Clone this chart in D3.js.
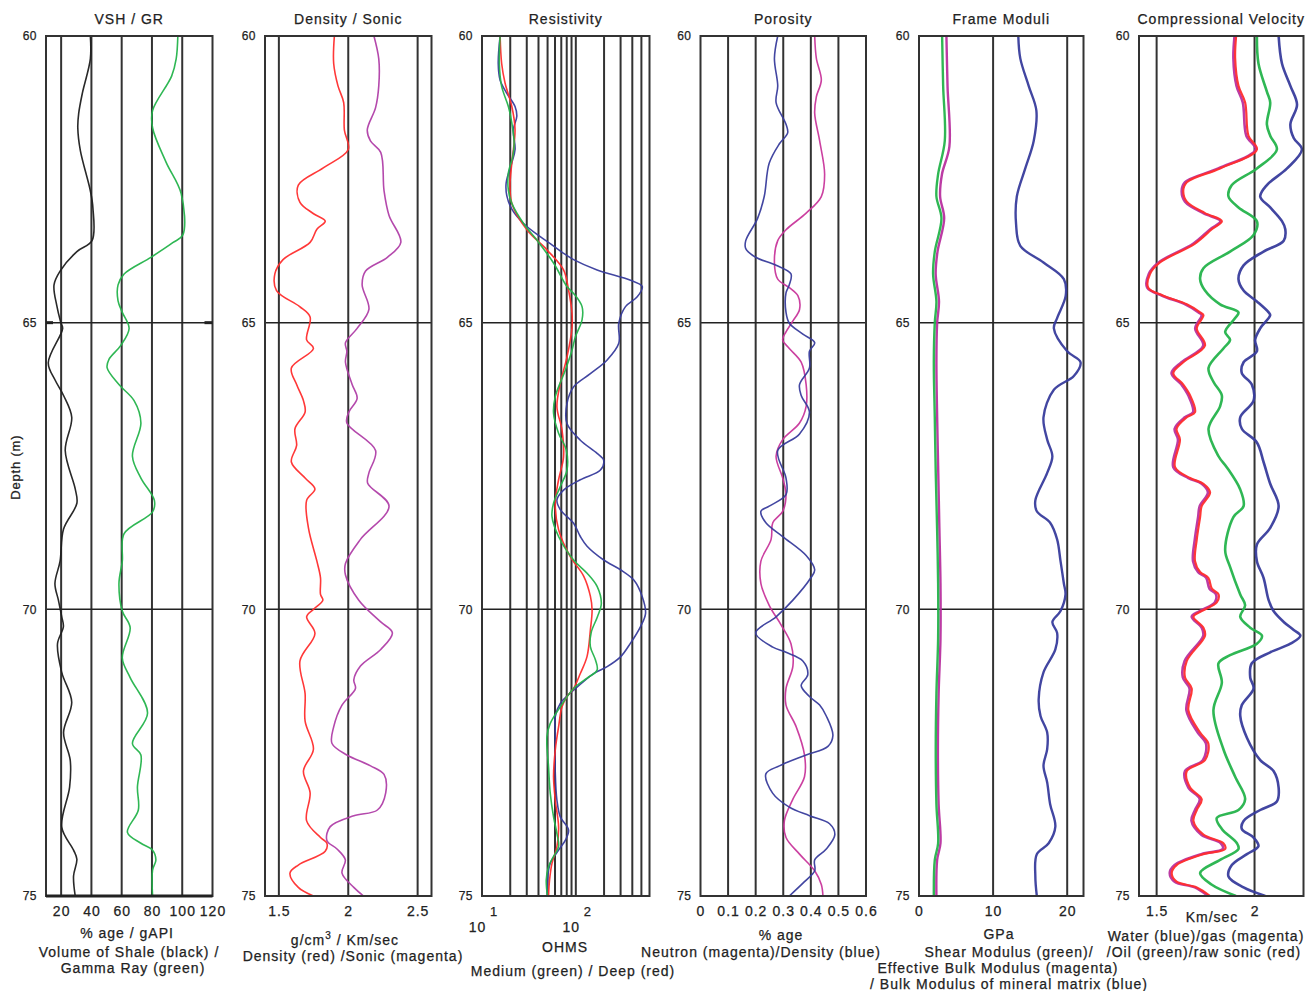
<!DOCTYPE html>
<html>
<head>
<meta charset="utf-8">
<script src="https://cdnjs.cloudflare.com/ajax/libs/d3/7.8.5/d3.min.js"></script>
<style>
  body { margin: 0; background: #fff; }
  text { font-family: "Liberation Sans", Arial, Helvetica, sans-serif; fill: #222; stroke: #222; stroke-width: 0.25px; }
</style>
</head>
<body>
<script>
// depth range and the depth tick labels
const depthDomain = [60, 75];
const depthTicks = [60, 65, 70, 75];
const depthLines = [65, 70];

// VSH / GR  -- [depth, value]
const vshBlack = [[60,39.3],[60.4,39.3],[61.0,34],[61.35,31.6],[61.6,31],[62.0,32.7],[62.7,39.3],[63.0,41],[63.57,40.4],[63.76,30.4],[64.1,19.3],[64.34,15.3],[64.7,17.1],[65,19.8],[65.1,21],[65.7,11.5],[66.0,16],[66.27,21.6],[66.65,27],[67.23,22.7],[67.9,29.3],[68.15,30.4],[68.6,21.6],[69.16,19.3],[69.55,15.9],[69.84,18.2],[70.13,20.4],[70.3,21.5],[70.6,17.6],[71.1,20.4],[71.62,27],[72.15,21.6],[72.63,26],[73.1,25.6],[73.8,20.4],[74.2,28.2],[74.36,30.4],[74.65,28.2],[75,29.3]];
const grGreen = [[60,97.1],[60.4,96],[60.7,93],[61.3,80.4],[61.6,80.4],[62.2,89.3],[62.75,99.3],[63.47,100.4],[63.6,94],[63.86,79.3],[64.15,61.6],[64.34,57.6],[64.62,57.6],[64.82,60.4],[65.1,64.9],[65.4,59.3],[65.64,51.6],[65.79,50.4],[66.08,58.2],[66.36,68.2],[66.75,72.7],[67.33,67.1],[67.71,72.7],[68.1,81.6],[68.3,80.4],[68.68,61.6],[69.16,60.4],[69.55,58.2],[70.03,60.4],[70.32,65.6],[70.85,60.4],[71.19,65.6],[71.81,77.1],[72.34,67.1],[72.54,72.7],[73.1,70.4],[73.5,71],[73.89,63.8],[74.08,72.7],[74.2,80.4],[74.37,82.6],[74.55,80.4],[75,80.4]];
const vshTicks = [20, 40, 60, 80, 100, 120];

// Density / Sonic
const densityRed = [[60,1.90],[60.48,1.895],[60.87,1.926],[61.16,1.967],[61.64,1.972],[61.98,2.0],[62.3,1.82],[62.6,1.64],[62.9,1.652],[63.1,1.75],[63.23,1.834],[63.37,1.774],[63.6,1.725],[63.9,1.53],[64.15,1.471],[64.44,1.483],[64.72,1.65],[64.9,1.725],[65.3,1.70],[65.45,1.749],[65.79,1.59],[66.08,1.628],[66.36,1.677],[66.56,1.689],[66.85,1.616],[67.14,1.628],[67.43,1.59],[67.71,1.689],[67.9,1.76],[68.1,1.70],[68.58,1.713],[69.16,1.774],[69.45,1.80],[69.74,1.80],[69.84,1.817],[70,1.749],[70.13,1.70],[70.42,1.76],[70.9,1.652],[71.47,1.689],[71.95,1.689],[72.44,1.749],[72.82,1.677],[73.2,1.725],[73.69,1.70],[73.98,1.80],[74.08,1.846],[74.22,1.834],[74.46,1.64],[74.6,1.58],[74.85,1.64],[75,1.749]];
const sonicMagenta = [[60,2.185],[60.4,2.22],[60.87,2.22],[61.25,2.197],[61.64,2.137],[61.83,2.16],[62.03,2.234],[62.7,2.258],[63.13,2.294],[63.6,2.379],[63.86,2.282],[64.1,2.125],[64.34,2.10],[64.77,2.149],[65.1,2.064],[65.35,1.98],[65.5,1.99],[65.69,1.98],[66.08,2.028],[66.32,2.064],[66.56,2.004],[66.75,1.99],[67.23,2.197],[67.62,2.149],[67.8,2.14],[68.2,2.294],[68.78,2.088],[69.2,1.98],[69.4,1.98],[69.84,2.076],[70.22,2.234],[70.41,2.318],[70.7,2.234],[70.99,2.088],[71.23,2.04],[71.38,2.052],[71.67,1.955],[72.05,1.895],[72.34,1.883],[72.54,1.99],[72.73,2.161],[72.88,2.258],[73.2,2.27],[73.5,2.21],[73.6,2.04],[73.79,1.87],[74.03,1.846],[74.18,1.919],[74.37,1.979],[74.6,1.955],[74.85,2.04],[75,2.11]];
const densityTicks = [1.5, 2, 2.5];

// Resistivity (ohm.m)
const resMedium = [[60,15.6],[60.48,15.3],[60.88,16.2],[61.23,19.1],[61.52,20.8],[61.87,22.0],[62.1,21.3],[62.39,19.1],[62.69,19.1],[62.92,20.8],[63.27,27.7],[63.56,38.5],[63.96,57.9],[64.37,80.5],[64.49,94.7],[64.72,116.5],[64.95,116.5],[65.25,98.8],[65.48,91.1],[65.83,77.2],[66.29,60.4],[66.58,57.9],[66.93,65.5],[67.22,79.1],[67.57,80.5],[67.86,68.3],[68.15,57.9],[68.38,55.7],[68.73,65.5],[69.14,94.7],[69.37,131.8],[69.6,168.6],[69.9,187],[70.13,170],[70.4,146],[70.65,142.9],[70.88,161.7],[71.06,168.6],[71.2,131.8],[71.38,94.7],[71.7,68.3],[71.99,53.4],[72.22,49.2],[72.75,51.2],[73.21,53.4],[73.62,57.9],[73.91,62.9],[74.14,65.5],[74.31,57.9],[74.49,51.2],[74.72,48.4],[75,49.9]];
const resDeep = [[60,15.6],[60.48,16.2],[60.82,17.6],[61.23,20.8],[61.63,22.5],[62.21,20.8],[62.6,19.9],[62.92,20.8],[63.38,30.1],[63.73,49.2],[64.08,74.0],[64.43,83.7],[64.84,91.1],[65.1,91],[65.6,80.5],[66.06,68.3],[66.47,62.9],[66.87,71.2],[67.34,74.0],[67.74,65.5],[68.15,60.4],[68.61,65.5],[69.08,87.3],[69.42,121.2],[69.77,142.9],[70.01,149.1],[70.36,142.9],[70.82,131.8],[71.12,111.7],[71.38,94.7],[71.52,80.5],[71.7,71.2],[72.05,65.5],[72.45,60.4],[72.92,57.9],[73.33,60.4],[73.79,65.5],[74.14,62.9],[74.43,55.7],[74.72,52.5],[75,51.2]];
const resShallow = [[60,15.6],[60.48,14.9],[60.77,15.6],[61.0,18.4],[61.23,22.5],[61.4,23.5],[61.63,21.6],[61.98,22.5],[62.21,20.8],[62.56,18.1],[62.79,18.4],[63.02,20.8],[63.27,27.7],[63.5,41.7],[63.62,53.4],[63.79,74.0],[63.9,94.7],[64.08,168.6],[64.26,382.8],[64.37,510.5],[64.55,451.3],[64.72,338.3],[65.01,287.0],[65.36,287],[65.65,215.7],[65.89,142.9],[66.12,94.7],[66.41,80.5],[66.76,80.5],[67.05,111.7],[67.28,168.6],[67.4,198.3],[67.57,182.8],[67.74,111.7],[67.92,74.0],[68.09,62.9],[68.26,68.3],[68.5,94.7],[68.73,111.7],[68.9,131.8],[69.14,198.3],[69.31,299.2],[69.49,415.1],[69.78,510.5],[70.07,553.8],[70.3,489.6],[70.59,382.8],[70.83,299.2],[71.0,215.7],[71.12,155.0],[71.41,94.7],[71.64,68.3],[71.87,60.4],[72.16,60.4],[72.86,60.4],[73.33,62.9],[73.62,68.3],[73.85,83.7],[74.03,77.2],[74.2,65.5],[74.43,53.4],[74.72,49.9],[75,49.9]];
const resGrid = [20, 30, 40, 50, 60, 70, 80, 90, 100, 200, 300, 400, 500];
const resTicks = [{v: 10, exp: "1"}, {v: 100, exp: "2"}];

// Porosity (fraction)
const porDensityBlue = [[60,0.28],[60.39,0.268],[60.87,0.28],[61.16,0.274],[61.54,0.31],[61.69,0.316],[61.88,0.286],[62.22,0.249],[62.8,0.231],[63.18,0.207],[63.57,0.164],[63.71,0.164],[63.86,0.20],[64.0,0.274],[64.15,0.328],[64.34,0.322],[64.48,0.31],[64.82,0.31],[65.01,0.322],[65.2,0.371],[65.35,0.414],[65.5,0.395],[65.79,0.395],[66.08,0.359],[66.27,0.365],[66.56,0.395],[66.94,0.359],[67.23,0.28],[67.71,0.31],[68.0,0.31],[68.2,0.249],[68.29,0.219],[68.49,0.237],[68.73,0.298],[69.06,0.383],[69.31,0.414],[69.45,0.40],[69.84,0.335],[70.13,0.274],[70.41,0.20],[70.66,0.262],[70.75,0.31],[70.9,0.371],[71.14,0.389],[71.33,0.365],[71.52,0.395],[71.67,0.432],[71.86,0.456],[72.2,0.48],[72.39,0.462],[72.54,0.383],[72.73,0.286],[72.87,0.237],[73.21,0.262],[73.45,0.322],[73.6,0.395],[73.74,0.468],[73.93,0.487],[74.18,0.456],[74.37,0.414],[74.56,0.414],[74.75,0.377],[75,0.322]];
const porNeutronMagenta = [[60,0.414],[60.39,0.42],[60.77,0.438],[61.06,0.42],[61.35,0.414],[61.83,0.432],[62.41,0.45],[62.8,0.438],[63.09,0.383],[63.38,0.31],[63.57,0.28],[63.95,0.268],[64.24,0.28],[64.39,0.322],[64.53,0.353],[64.77,0.359],[64.97,0.335],[65.16,0.31],[65.3,0.298],[65.45,0.322],[65.69,0.365],[66.08,0.383],[66.46,0.383],[66.75,0.359],[67.04,0.298],[67.33,0.274],[67.71,0.298],[68.0,0.31],[68.29,0.298],[68.49,0.262],[68.78,0.256],[69.16,0.219],[69.55,0.219],[69.93,0.249],[70.27,0.292],[70.6,0.328],[70.99,0.335],[71.38,0.31],[71.67,0.31],[72.05,0.347],[72.54,0.377],[72.92,0.377],[73.31,0.335],[73.69,0.304],[73.98,0.31],[74.27,0.359],[74.56,0.414],[74.8,0.438],[75,0.444]];
const porTicks = [0, 0.1, 0.2, 0.3, 0.4, 0.5, 0.6];

// Frame moduli (GPa)
const shearGreen = [[60,3.12],[60.87,3.26],[61.83,3.48],[62.41,2.58],[62.8,2.35],[63.18,3.03],[63.76,2.13],[64.15,1.9],[64.63,2.35],[65,2.13],[65.69,2.0],[66.65,2.13],[67.62,2.26],[68.58,2.44],[69.55,2.58],[70.51,2.58],[71.47,2.35],[72.44,2.26],[73.4,2.35],[74.08,2.58],[74.37,2.13],[75,2.0]];
const bulkEffMagenta = [[60,3.7],[60.87,3.85],[61.93,4.1],[62.41,3.1],[62.8,2.85],[63.18,3.4],[63.76,2.5],[64.15,2.25],[64.63,2.7],[65,2.45],[65.69,2.35],[66.65,2.45],[67.62,2.6],[68.58,2.75],[69.55,2.9],[70.51,2.9],[71.47,2.65],[72.44,2.55],[73.4,2.65],[74.08,2.9],[74.37,2.45],[75,2.35]];
const bulkMineralBlue = [[60,13.4],[60.39,13.67],[60.87,14.8],[61.3,15.84],[61.83,15.48],[62.31,14.34],[62.8,13.2],[63.28,13.1],[63.66,13.67],[63.95,16.8],[64.24,19.55],[64.53,19.8],[64.92,18.64],[65.1,18.2],[65.5,20.0],[65.69,21.8],[65.93,20.9],[66.17,18.2],[66.65,16.8],[67.04,17.3],[67.33,18.0],[67.62,17.3],[68.1,15.7],[68.29,15.9],[68.49,17.7],[68.78,18.64],[69.16,19.1],[69.55,19.55],[69.74,19.77],[70.03,19.1],[70.22,18.0],[70.41,18.64],[70.7,18.4],[71.1,16.8],[71.57,16.15],[71.86,16.4],[72.15,17.3],[72.44,17.3],[72.73,16.8],[73.02,17.3],[73.4,17.7],[73.79,18.4],[74.08,17.5],[74.27,15.9],[74.66,15.7],[75,15.9]];
const gpaTicks = [0, 10, 20];

// Compressional velocity (km/s)
const vpWaterBlue = [[60,2.123],[60.48,2.14],[60.87,2.183],[61.2,2.217],[61.54,2.183],[61.78,2.2],[61.98,2.242],[62.31,2.166],[62.6,2.063],[62.8,2.029],[62.99,2.08],[63.23,2.14],[63.37,2.157],[63.57,2.149],[63.76,2.046],[64.0,1.944],[64.24,1.918],[64.44,1.944],[64.63,2.012],[64.82,2.072],[64.87,2.08],[65.1,2.029],[65.3,2.003],[65.5,2.012],[65.69,1.944],[65.88,1.935],[66.08,1.986],[66.36,1.995],[66.65,1.927],[66.85,1.935],[67.09,2.012],[67.43,2.046],[67.81,2.08],[68.2,2.123],[68.58,2.08],[68.87,2.012],[69.16,2.012],[69.45,2.046],[69.84,2.072],[70.03,2.097],[70.22,2.149],[70.36,2.2],[70.46,2.234],[70.6,2.183],[70.75,2.08],[70.94,1.986],[71.19,1.978],[71.38,1.995],[71.67,1.935],[71.86,1.927],[72.24,1.961],[72.63,2.029],[72.82,2.097],[73.11,2.123],[73.35,2.114],[73.5,2.029],[73.69,1.944],[73.83,1.935],[73.98,1.995],[74.13,2.02],[74.27,1.961],[74.46,1.884],[74.66,1.867],[74.85,1.944],[75,2.055]];
const vpOilGreen = [[60,2.012],[60.48,2.02],[60.97,2.063],[61.16,2.08],[61.54,2.063],[61.74,2.08],[61.98,2.114],[62.31,2.012],[62.6,1.884],[62.8,1.867],[62.99,1.918],[63.23,2.012],[63.47,1.995],[63.76,1.875],[64.05,1.739],[64.24,1.722],[64.44,1.747],[64.68,1.824],[64.82,1.918],[64.92,1.901],[65.16,1.85],[65.3,1.875],[65.45,1.841],[65.79,1.765],[66.03,1.79],[66.27,1.833],[66.46,1.824],[66.85,1.765],[67.33,1.816],[67.52,1.858],[67.91,1.927],[68.2,1.944],[68.39,1.892],[68.97,1.85],[69.26,1.875],[69.74,1.927],[69.93,1.952],[70.13,1.927],[70.32,1.978],[70.46,2.038],[70.6,2.012],[70.8,1.875],[70.94,1.816],[71.28,1.833],[71.76,1.79],[72.44,1.841],[72.92,1.901],[73.31,1.952],[73.5,1.918],[73.64,1.807],[73.83,1.833],[74.08,1.91],[74.18,1.918],[74.37,1.824],[74.6,1.722],[74.8,1.78],[75,1.905]];
const vpGasMagenta = [[60,1.898],[60.39,1.892],[60.87,1.908],[61.16,1.94],[61.74,1.958],[61.98,2.005],[62.31,1.815],[62.55,1.645],[62.7,1.628],[62.89,1.645],[63.09,1.738],[63.23,1.826],[63.37,1.774],[63.62,1.688],[63.95,1.51],[64.15,1.46],[64.39,1.452],[64.53,1.528],[64.68,1.646],[64.82,1.714],[64.87,1.73],[65.1,1.697],[65.4,1.738],[65.69,1.627],[65.88,1.576],[66.08,1.627],[66.27,1.662],[66.56,1.686],[66.65,1.644],[66.85,1.592],[67.04,1.609],[67.52,1.585],[67.71,1.662],[67.81,1.73],[67.96,1.762],[68.2,1.72],[68.39,1.712],[68.78,1.695],[69.16,1.686],[69.35,1.712],[69.45,1.753],[69.64,1.77],[69.74,1.803],[69.88,1.797],[70.03,1.72],[70.13,1.679],[70.32,1.73],[70.46,1.738],[70.9,1.643],[71.19,1.634],[71.38,1.668],[71.76,1.652],[72.15,1.71],[72.34,1.752],[72.63,1.736],[72.82,1.645],[73.11,1.662],[73.31,1.72],[73.5,1.696],[73.69,1.678],[73.93,1.728],[74.08,1.828],[74.18,1.838],[74.27,1.728],[74.46,1.592],[74.6,1.567],[74.75,1.592],[74.85,1.695],[75,1.763]];
const vpRawRed = [[60,1.906],[60.39,1.901],[60.87,1.918],[61.16,1.952],[61.74,1.969],[61.98,2.012],[62.31,1.824],[62.55,1.654],[62.7,1.636],[62.89,1.654],[63.09,1.747],[63.23,1.833],[63.37,1.782],[63.62,1.696],[63.95,1.517],[64.15,1.466],[64.39,1.457],[64.53,1.534],[64.68,1.654],[64.82,1.722],[64.87,1.739],[65.1,1.705],[65.4,1.747],[65.69,1.636],[65.88,1.585],[66.08,1.636],[66.27,1.671],[66.56,1.696],[66.65,1.654],[66.85,1.602],[67.04,1.619],[67.52,1.594],[67.71,1.671],[67.81,1.739],[67.96,1.773],[68.2,1.73],[68.39,1.722],[68.78,1.705],[69.16,1.696],[69.35,1.722],[69.45,1.764],[69.64,1.782],[69.74,1.816],[69.88,1.807],[70.03,1.73],[70.13,1.688],[70.32,1.739],[70.46,1.747],[70.9,1.654],[71.19,1.645],[71.38,1.679],[71.76,1.662],[72.15,1.722],[72.34,1.764],[72.63,1.747],[72.82,1.654],[73.11,1.671],[73.31,1.73],[73.5,1.705],[73.69,1.688],[73.93,1.739],[74.08,1.841],[74.18,1.85],[74.27,1.739],[74.46,1.602],[74.6,1.577],[74.75,1.602],[74.85,1.705],[75,1.773]];
const vpTicks = [1.5, 2];

// ---------- layout ----------
const width = 1313, height = 991;
const trackTop = 36, trackBottom = 896;

const svg = d3.select("body").append("svg")
  .attr("width", width)
  .attr("height", height);

const y = d3.scaleLinear().domain(depthDomain).range([trackTop, trackBottom]);

const panels = [
  { title: "VSH / GR", left: 46, right: 212.5, type: "linear", domain: [10, 120],
    grid: [20, 40, 60, 80, 100], ticks: vshTicks,
    curves: [ {data: vshBlack, color: "#1e1e1e", w: 1.6}, {data: grGreen, color: "#24b34b", w: 1.6} ],
    notes: [ {t: "% age / gAPI", x: 127, y: 938}, {t: "Volume of Shale (black) /", x: 129, y: 957}, {t: "Gamma Ray (green)", x: 133, y: 973} ] },
  { title: "Density / Sonic", left: 265, right: 431.5, type: "linear", domain: [1.4, 2.6],
    grid: [1.5, 2, 2.5], ticks: densityTicks,
    curves: [ {data: sonicMagenta, color: "#b03fa8", w: 1.6}, {data: densityRed, color: "#ff2d2d", w: 1.6} ],
    notes: [ {t: "g/cm|3| / Km/sec", x: 345, y: 945}, {t: "Density (red) /Sonic (magenta)", x: 353, y: 961} ] },
  { title: "Resistivity", left: 482, right: 649.5, type: "log", domain: [10, 610],
    grid: resGrid, ticks: null,
    curves: [ {data: resShallow, color: "#383c9c", w: 1.6}, {data: resDeep, color: "#ff2d2d", w: 1.6}, {data: resMedium, color: "#24b34b", w: 1.6} ],
    notes: [ {t: "OHMS", x: 565, y: 952}, {t: "Medium (green) / Deep (red)", x: 573, y: 976} ] },
  { title: "Porosity", left: 700.5, right: 866, type: "linear", domain: [0, 0.6],
    grid: [0.1, 0.2, 0.3, 0.4, 0.5], ticks: porTicks,
    curves: [ {data: porNeutronMagenta, color: "#c8369b", w: 1.6}, {data: porDensityBlue, color: "#383c9c", w: 1.6} ],
    notes: [ {t: "% age", x: 781, y: 940}, {t: "Neutron (magenta)/Density (blue)", x: 761, y: 957} ] },
  { title: "Frame Moduli", left: 919, right: 1083.5, type: "linear", domain: [0, 22.2],
    grid: [10, 20], ticks: gpaTicks,
    curves: [ {data: bulkMineralBlue, color: "#383c9c", w: 2.4}, {data: bulkEffMagenta, color: "#b8309f", w: 2.4}, {data: shearGreen, color: "#24b34b", w: 2.4} ],
    notes: [ {t: "GPa", x: 999, y: 939}, {t: "Shear Modulus (green)/", x: 1009, y: 957}, {t: "Effective Bulk Modulus (magenta)", x: 998, y: 973}, {t: "/ Bulk Modulus of mineral matrix (blue)", x: 1009, y: 989} ] },
  { title: "Compressional Velocity", left: 1139, right: 1303.5, type: "linear", domain: [1.41, 2.25],
    grid: [1.5, 2], ticks: vpTicks,
    curves: [ {data: vpWaterBlue, color: "#383c9c", w: 2.6}, {data: vpOilGreen, color: "#24b34b", w: 2.6}, {data: vpGasMagenta, color: "#b8309f", w: 2.6}, {data: vpRawRed, color: "#ff2d2d", w: 2.2} ],
    notes: [ {t: "Km/sec", x: 1212, y: 922}, {t: "Water (blue)/gas (magenta)", x: 1206, y: 941}, {t: "/Oil (green)/raw sonic (red)", x: 1204, y: 957} ] }
];

const textStyle = sel => sel.attr("font-size", 14).attr("letter-spacing", 1);

panels.forEach((p, i) => {
  const x = (p.type === "log" ? d3.scaleLog() : d3.scaleLinear())
    .domain(p.domain).range([p.left, p.right]);
  const g = svg.append("g");

  // title
  g.append("text")
    .attr("x", (p.left + p.right) / 2).attr("y", 24)
    .attr("text-anchor", "middle")
    .call(textStyle)
    .text(p.title);

  // vertical grid
  g.selectAll("line.vgrid").data(p.grid).join("line")
    .attr("x1", d => x(d)).attr("x2", d => x(d))
    .attr("y1", trackTop).attr("y2", trackBottom)
    .attr("stroke", "#333").attr("stroke-width", 2);

  // horizontal depth lines
  g.selectAll("line.hgrid").data(depthLines).join("line")
    .attr("x1", p.left).attr("x2", p.right)
    .attr("y1", d => y(d)).attr("y2", d => y(d))
    .attr("stroke", "#222").attr("stroke-width", 1.5);

  // curves
  const clipId = "clip" + i;
  svg.append("clipPath").attr("id", clipId).append("rect")
    .attr("x", p.left).attr("y", trackTop).attr("width", p.right - p.left).attr("height", trackBottom - trackTop);
  const line = d3.line()
    .x(d => x(d[1])).y(d => y(d[0]))
    .curve(d3.curveCatmullRom.alpha(0.5));
  g.append("g").attr("clip-path", `url(#${clipId})`)
    .selectAll("path").data(p.curves).join("path")
    .attr("d", c => line(c.data))
    .attr("fill", "none")
    .attr("stroke", c => c.color)
    .attr("stroke-width", c => c.w)
    .attr("stroke-linejoin", "round")
    .attr("opacity", 0.95);

  // frame
  g.append("rect")
    .attr("x", p.left).attr("y", trackTop)
    .attr("width", p.right - p.left).attr("height", trackBottom - trackTop)
    .attr("fill", "none").attr("stroke", "#333").attr("stroke-width", 2);

  // depth axis labels
  const ay = d3.axisLeft(y).tickValues(depthTicks).tickSize(0).tickPadding(9);
  const axg = g.append("g").attr("transform", `translate(${p.left},0)`).call(ay);
  axg.select(".domain").remove();
  axg.selectAll("text").attr("font-size", 12).attr("letter-spacing", 0.5)
    .attr("font-family", "Liberation Sans, Arial, sans-serif").attr("fill", "#222");

  // x tick labels
  if (p.ticks) {
    const ax = d3.axisBottom(x).tickValues(p.ticks).tickSize(0).tickPadding(0)
      .tickFormat(d3.format("~g"));
    const bx = g.append("g").attr("transform", `translate(0,${trackBottom + 10})`).call(ax);
    bx.select(".domain").remove();
    bx.selectAll("text").attr("font-size", 14).attr("letter-spacing", 1)
      .attr("font-family", "Liberation Sans, Arial, sans-serif").attr("fill", "#222");
  } else {
    // log decades as 10 with a raised exponent
    const lg = g.selectAll("g.dec").data(resTicks).join("g");
    lg.append("text").attr("x", d => x(d.v) - 4.5).attr("y", 932)
      .attr("text-anchor", "middle").call(textStyle).text("10");
    lg.append("text").attr("x", d => x(d.v) + 8).attr("y", 916)
      .attr("font-size", 13).text(d => d.exp);
  }

  // notes under the track
  p.notes.forEach(n => {
    const t = g.append("text").attr("x", n.x).attr("y", n.y)
      .attr("text-anchor", "middle").call(textStyle);
    const parts = n.t.split("|");
    if (parts.length === 3) {
      t.append("tspan").text(parts[0]);
      t.append("tspan").attr("font-size", 10).attr("dy", -6).text(parts[1]);
      t.append("tspan").attr("dy", 6).text(parts[2]);
    } else {
      t.text(n.t);
    }
  });
});

// the thicker bottom edge and depth ticks of the first track
const p0 = panels[0];
svg.append("line").attr("x1", p0.left).attr("x2", p0.right)
  .attr("y1", y(75)).attr("y2", y(75)).attr("stroke", "#222").attr("stroke-width", 3);
svg.selectAll("line.t65").data([[p0.left, p0.left + 7], [p0.right - 8, p0.right]]).join("line")
  .attr("x1", d => d[0]).attr("x2", d => d[1])
  .attr("y1", y(65)).attr("y2", y(65)).attr("stroke", "#222").attr("stroke-width", 3);

// depth axis title
svg.append("text")
  .attr("transform", `translate(20,${y(67.52)}) rotate(-90)`)
  .attr("text-anchor", "middle")
  .attr("font-size", 13)
  .attr("letter-spacing", 0.8)
  .text("Depth (m)");
</script>
</body>
</html>
